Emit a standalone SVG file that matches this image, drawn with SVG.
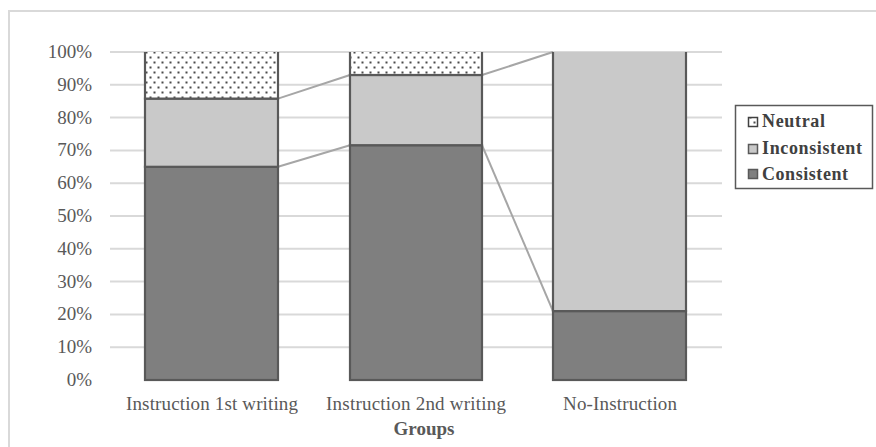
<svg xmlns="http://www.w3.org/2000/svg" width="876" height="447" viewBox="0 0 876 447">
<style>
.grid{stroke:#d9d9d9;stroke-width:2}
.frame{stroke:#d9d9d9;stroke-width:2;fill:none}
.cons{fill:#7f7f7f;stroke:#595959;stroke-width:2.2}
.inc{fill:#c9c9c9;stroke:#595959;stroke-width:2.2}
.neu{fill:url(#dots);stroke:#595959;stroke-width:2.2}
.ser{stroke:#a6a6a6;stroke-width:2;fill:none}
.ax{font-family:"Liberation Serif","Times New Roman",serif;font-size:19px;fill:#595959}
.lg{font-family:"Liberation Serif","Times New Roman",serif;font-size:18px;font-weight:bold;fill:#404040}
</style>
<defs>
<pattern id="dots" x="0" y="0" width="8" height="10" patternUnits="userSpaceOnUse">
<rect width="8" height="10" fill="#ffffff"/>
<rect x="1.5" y="1.5" width="2" height="2" fill="#4a4a4a"/>
<rect x="5.5" y="6.5" width="2" height="2" fill="#4a4a4a"/>
</pattern>
<clipPath id="plot"><rect x="100" y="52" width="640" height="340"/></clipPath>
</defs>
<rect width="876" height="447" fill="#ffffff"/>
<path class="frame" d="M9 447 V11 H876"/>
<g id="gridlines">
<line class="grid" x1="110" y1="52" x2="722" y2="52"/>
<line class="grid" x1="110" y1="84.8" x2="722" y2="84.8"/>
<line class="grid" x1="110" y1="117.6" x2="722" y2="117.6"/>
<line class="grid" x1="110" y1="150.4" x2="722" y2="150.4"/>
<line class="grid" x1="110" y1="183.2" x2="722" y2="183.2"/>
<line class="grid" x1="110" y1="216" x2="722" y2="216"/>
<line class="grid" x1="110" y1="248.8" x2="722" y2="248.8"/>
<line class="grid" x1="110" y1="281.6" x2="722" y2="281.6"/>
<line class="grid" x1="110" y1="314.4" x2="722" y2="314.4"/>
<line class="grid" x1="110" y1="347.2" x2="722" y2="347.2"/>
</g>
<g id="yaxis" class="ax" text-anchor="end">
<text x="92" y="58">100%</text>
<text x="92" y="90.8">90%</text>
<text x="92" y="123.6">80%</text>
<text x="92" y="156.4">70%</text>
<text x="92" y="189.2">60%</text>
<text x="92" y="222">50%</text>
<text x="92" y="254.8">40%</text>
<text x="92" y="287.6">30%</text>
<text x="92" y="320.4">20%</text>
<text x="92" y="353.2">10%</text>
<text x="92" y="386">0%</text>
</g>
<g id="connectors">
<line class="ser" x1="278" y1="166.8" x2="350" y2="145.2"/>
<line class="ser" x1="278" y1="98.6" x2="350" y2="75"/>
<line class="ser" x1="482" y1="145.2" x2="553" y2="311.1"/>
<line class="ser" x1="482" y1="75" x2="553" y2="52"/>
</g>
<g clip-path="url(#plot)">
<g id="bar1">
<rect class="cons" x="145" y="166.8" width="133" height="213.2"/>
<rect class="inc" x="145" y="98.6" width="133" height="68.2"/>
<rect class="neu" x="145" y="50" width="133" height="48.6"/>
</g>
<g id="bar2">
<rect class="cons" x="350" y="145.2" width="132" height="234.8"/>
<rect class="inc" x="350" y="75" width="132" height="70.2"/>
<rect class="neu" x="350" y="50" width="132" height="25"/>
</g>
<g id="bar3">
<rect class="cons" x="553" y="311.1" width="133" height="68.9"/>
<rect class="inc" x="553" y="50" width="133" height="261.1"/>
</g>
</g>
<g id="xaxis" class="ax" text-anchor="middle">
<text x="212" y="410" textLength="172" lengthAdjust="spacing">Instruction 1st writing</text>
<text x="416" y="410" textLength="180" lengthAdjust="spacing">Instruction 2nd writing</text>
<text x="620" y="410" textLength="114" lengthAdjust="spacing">No-Instruction</text>
<text x="424" y="435" font-weight="bold">Groups</text>
</g>
<g id="legend">
<rect x="735.5" y="105.5" width="137" height="83" fill="#ffffff" stroke="#595959" stroke-width="1.5"/>
<rect x="748.5" y="117.5" width="9" height="9" fill="url(#dots)" stroke="#404040" stroke-width="1.5"/>
<rect x="748.5" y="144.5" width="9" height="9" fill="#c9c9c9" stroke="#595959" stroke-width="1.5"/>
<rect x="748.5" y="169.5" width="9" height="9" fill="#7f7f7f" stroke="#595959" stroke-width="1.5"/>
<text class="lg" x="762" y="127" textLength="63" lengthAdjust="spacing">Neutral</text>
<text class="lg" x="762" y="154" textLength="100" lengthAdjust="spacing">Inconsistent</text>
<text class="lg" x="762" y="180" textLength="86" lengthAdjust="spacing">Consistent</text>
</g>
</svg>
